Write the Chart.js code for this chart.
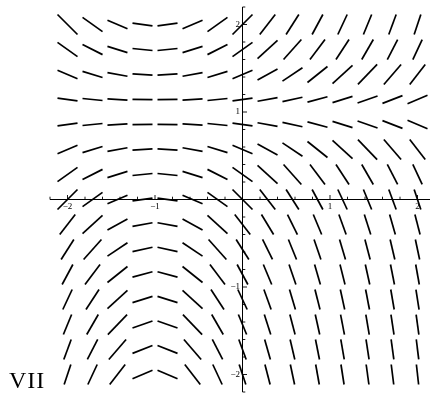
<!DOCTYPE html>
<html><head><meta charset="utf-8">
<script src="https://cdn.jsdelivr.net/npm/chart.js@4.4.0/dist/chart.umd.min.js"></script>
<style>
html,body{margin:0;padding:0;background:#fff;overflow:hidden;}
#wrap{position:relative;width:430px;height:395px;}
#lbl{position:absolute;left:9px;top:368px;font-family:"Liberation Serif","Times New Roman",serif;font-size:24px;line-height:24px;letter-spacing:1px;color:#000;}
</style></head><body>
<div id="wrap"><canvas id="c" width="430" height="395"></canvas><div id="lbl">VII</div></div>
<script>
// grid of sample points (columns = x, rows = y from top to bottom)
const xGrid = [-2, -1.714, -1.429, -1.143, -0.857, -0.571, -0.286, 0, 0.286, 0.571, 0.857, 1.143, 1.429, 1.714, 2];
const yGrid = [2, 1.714, 1.429, 1.143, 0.857, 0.571, 0.286, 0, -0.286, -0.571, -0.857, -1.143, -1.429, -1.714, -2];
// slope read at each grid point (row per yGrid value, column per xGrid value)
const slopes = [
  [-1, -0.71, -0.43, -0.14, 0.14, 0.43, 0.71, 1, 1.29, 1.57, 1.86, 2.14, 2.43, 2.71, 3],
  [-0.71, -0.51, -0.31, -0.10, 0.10, 0.31, 0.51, 0.71, 0.92, 1.12, 1.33, 1.53, 1.73, 1.94, 2.14],
  [-0.43, -0.31, -0.18, -0.06, 0.06, 0.18, 0.31, 0.43, 0.55, 0.67, 0.80, 0.92, 1.04, 1.16, 1.29],
  [-0.14, -0.10, -0.06, -0.02, 0.02, 0.06, 0.10, 0.14, 0.18, 0.22, 0.27, 0.31, 0.35, 0.39, 0.43],
  [0.14, 0.10, 0.06, 0.02, -0.02, -0.06, -0.10, -0.14, -0.18, -0.22, -0.27, -0.31, -0.35, -0.39, -0.43],
  [0.43, 0.31, 0.18, 0.06, -0.06, -0.18, -0.31, -0.43, -0.55, -0.67, -0.80, -0.92, -1.04, -1.16, -1.29],
  [0.71, 0.51, 0.31, 0.10, -0.10, -0.31, -0.51, -0.71, -0.92, -1.12, -1.33, -1.53, -1.73, -1.94, -2.14],
  [1, 0.71, 0.43, 0.14, -0.14, -0.43, -0.71, -1, -1.29, -1.57, -1.86, -2.14, -2.43, -2.71, -3],
  [1.29, 0.92, 0.55, 0.18, -0.18, -0.55, -0.92, -1.29, -1.65, -2.02, -2.39, -2.76, -3.12, -3.49, -3.86],
  [1.57, 1.12, 0.67, 0.22, -0.22, -0.67, -1.12, -1.57, -2.02, -2.47, -2.92, -3.37, -3.82, -4.27, -4.71],
  [1.86, 1.33, 0.80, 0.27, -0.27, -0.80, -1.33, -1.86, -2.39, -2.92, -3.45, -3.98, -4.51, -5.04, -5.57],
  [2.14, 1.53, 0.92, 0.31, -0.31, -0.92, -1.53, -2.14, -2.76, -3.37, -3.98, -4.59, -5.20, -5.82, -6.43],
  [2.43, 1.73, 1.04, 0.35, -0.35, -1.04, -1.73, -2.43, -3.12, -3.82, -4.51, -5.20, -5.90, -6.59, -7.29],
  [2.71, 1.94, 1.16, 0.39, -0.39, -1.16, -1.94, -2.71, -3.49, -4.27, -5.04, -5.82, -6.59, -7.37, -8.14],
  [3, 2.14, 1.29, 0.43, -0.43, -1.29, -2.14, -3, -3.86, -4.71, -5.57, -6.43, -7.29, -8.14, -9]
];
const xRange = [-2.2, 2.142857];
const yRange = [-2.2, 2.2];
const minorTicks = [-2.2, -2, -1.8, -1.6, -1.4, -1.2, -1, -0.8, -0.6, -0.4, -0.2, 0.2, 0.4, 0.6, 0.8, 1, 1.2, 1.4, 1.6, 1.8, 2, 2.2];
const majorTicks = [-2, -1, 1, 2];
const tickLabels = ['\u22122', '\u22121', '1', '2'];

// style
const HALF = 0.8 / 7;      // half extent of each slope segment box (data units)
const SEG_W = 1.7;

const datasets = [];
yGrid.forEach((y, j) => {
  xGrid.forEach((x, i) => {
    const s = slopes[j][i];
    let dx, dy;
    if (Math.abs(s) <= 1) { dx = HALF; dy = s * HALF; }
    else { dy = Math.sign(s) * HALF; dx = HALF / Math.abs(s); }
    datasets.push({
      data: [{x: x - dx, y: y - dy}, {x: x + dx, y: y + dy}],
      showLine: true, borderColor: '#000', borderWidth: SEG_W,
      pointRadius: 0, pointHoverRadius: 0, fill: false, tension: 0
    });
  });
});

const axesPlugin = {
  id: 'axesPlugin',
  afterDatasetsDraw(chart) {
    const ctx = chart.ctx, xs = chart.scales.x, ys = chart.scales.y, a = chart.chartArea;
    const x0 = xs.getPixelForValue(0), y0 = ys.getPixelForValue(0);
    ctx.save();
    ctx.strokeStyle = '#000'; ctx.lineWidth = 1;
    ctx.beginPath();
    ctx.moveTo(a.left, y0); ctx.lineTo(a.right, y0);
    ctx.moveTo(x0, a.top); ctx.lineTo(x0, a.bottom);
    ctx.stroke();
    ctx.lineWidth = 0.9;
    ctx.beginPath();
    minorTicks.forEach(v => {
      const major = majorTicks.some(m => Math.abs(m - v) < 1e-9);
      const len = major ? 4.5 : 2.8;
      if (v >= xRange[0] - 1e-9 && v <= xRange[1] + 1e-9) {
        const px = xs.getPixelForValue(v);
        ctx.moveTo(px, y0); ctx.lineTo(px, y0 - len);
      }
      if (v >= yRange[0] - 1e-9 && v <= yRange[1] + 1e-9) {
        const py = ys.getPixelForValue(v);
        ctx.moveTo(x0, py); ctx.lineTo(x0 + len, py);
      }
    });
    ctx.stroke();
    ctx.fillStyle = '#000';
    ctx.font = '9px "Liberation Serif", "Times New Roman", serif';
    majorTicks.forEach((v, k) => {
      ctx.textAlign = 'center'; ctx.textBaseline = 'top';
      ctx.fillText(tickLabels[k], xs.getPixelForValue(v), y0 + 3);
      ctx.textAlign = 'right'; ctx.textBaseline = 'middle';
      ctx.fillText(tickLabels[k], x0 - 2.5, ys.getPixelForValue(v));
    });
    ctx.restore();
  }
};

new Chart(document.getElementById('c').getContext('2d'), {
  type: 'scatter',
  data: { datasets },
  options: {
    responsive: false, animation: false, events: [],
    layout: { padding: { left: 50, right: 0, top: 7, bottom: 3 } },
    plugins: { legend: { display: false }, tooltip: { enabled: false } },
    scales: {
      x: { type: 'linear', min: xRange[0], max: xRange[1], display: false },
      y: { type: 'linear', min: yRange[0], max: yRange[1], display: false }
    }
  },
  plugins: [axesPlugin]
});
</script>
</body></html>
